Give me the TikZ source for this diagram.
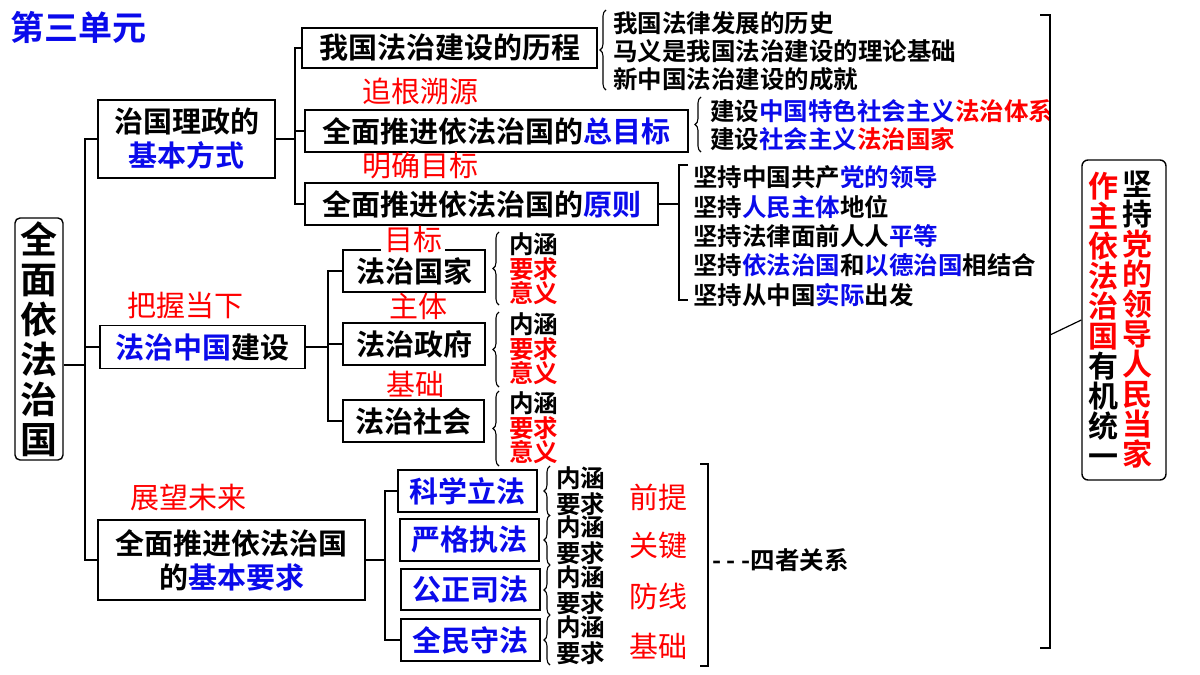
\documentclass[tikz,border=0pt]{standalone}
\usepackage{fontspec}
\newfontfamily\bcjk{Noto Sans CJK SC}[BoldFont=* Bold]
\usetikzlibrary{decorations.pathreplacing}
\definecolor{bl}{RGB}{10,10,235}
\definecolor{rd}{RGB}{255,0,0}
\newcommand{\B}[1]{\textcolor{bl}{#1}}
\newcommand{\R}[1]{\textcolor{rd}{#1}}
\begin{document}
\begin{tikzpicture}[x=1pt,y=-1pt,
  box/.style={draw,line width=1.4pt,inner sep=0pt,align=center,font=\bcjk\bfseries\fontsize{29}{34}\selectfont},
  ln/.style={line width=1.2pt},
  txt/.style={anchor=west,inner sep=0pt,font=\bcjk\bfseries\fontsize{24.5}{26}\selectfont},
  lab/.style={inner sep=0pt,text=rd,font=\bcjk\fontsize{29}{30}\selectfont},
  br/.style={line width=1.1pt,decorate,decoration={brace,amplitude=6pt}}]
\useasboundingbox (0,0) rectangle (1200,675);
\fill[white] (0,0) rectangle (1200,675);
\node[anchor=west,inner sep=0pt,text=bl,font=\bcjk\bfseries\fontsize{34}{36}\selectfont] (title) at (10,27) {第三单元};
% root
\node[box,rounded corners=5pt,minimum width=48pt,minimum height=242pt,font=\bcjk\bfseries\fontsize{37}{40}\selectfont] (root) at (39,339) {全\\面\\依\\法\\治\\国};
\coordinate (t1) at (85,365);
\draw[ln] (root.east|-t1) -- (t1);
\node[box,minimum width=177pt,minimum height=78pt] (a) at (186.5,139) {治国理政的\\\B{基本方式}};
\node[box,minimum width=205pt,minimum height=43pt] (b) at (202.5,347) {\B{法治中国}建设};
\node[box,minimum width=267pt,minimum height=80pt] (c) at (231.5,560) {全面推进依法治国\\的\B{基本要求}};
\draw[ln] (a.west) -| (t1) |- (c.west);
\draw[ln] (b.west) -- (b.west-|t1);
% branch a
\node[box,minimum width=295pt,minimum height=40pt] (a1) at (449.5,48) {我国法治建设的历程};
\node[box,minimum width=383pt,minimum height=42pt] (a2) at (496.5,131) {全面推进依法治国的\B{总目标}};
\node[box,minimum width=353pt,minimum height=42pt] (a3) at (481.5,204) {全面推进依法治国的\B{原则}};
\coordinate (t2) at (295,139);
\draw[ln] (a.east) -- (t2);
\draw[ln] (a1.west) -| (t2) |- (a3.west);
\draw[ln] (a2.west) -- (a2.west-|t2);
\node[lab] (l1) at (420,91) {追根溯源};
\node[lab] (l2) at (420,166) {明确目标};
\draw[br] (606,90) -- (606,10);
\node[txt] (a1x) at (613,23) {我国法律发展的历史};
\node[txt] (a1y) at (613,51) {马义是我国法治建设的理论基础};
\node[txt] (a1z) at (613,79) {新中国法治建设的成就};
\draw[br] (701,152) -- (701,97);
\node[txt] (a2x) at (710,111) {建设\B{中国特色社会主义}\R{法治体系}};
\node[txt] (a2y) at (710,139) {建设\B{社会主义}\R{法治国家}};
\coordinate (k3) at (679,204);
\draw[ln] (a3.east) -- (k3);
\draw[ln] (688,165) -- (679,165) -- (679,300) -- (688,300);
\node[txt] (p1) at (693,177) {坚持中国共产\B{党的领导}};
\node[txt] (p2) at (693,207) {坚持\B{人民主体}地位};
\node[txt] (p3) at (693,236) {坚持法律面前人人\B{平等}};
\node[txt] (p4) at (693,265) {坚持\B{依法治国}和\B{以德治国}相结合};
\node[txt] (p5) at (693,295) {坚持从中国\B{实际}出发};
% branch b
\node[box,minimum width=142pt,minimum height=42pt] (b1) at (414,271) {法治国家};
\node[box,minimum width=142pt,minimum height=42pt] (b2) at (414,344) {法治政府};
\node[box,minimum width=141pt,minimum height=42pt] (b3) at (413.5,421) {法治社会};
\coordinate (t3) at (328,347);
\draw[ln] (b.east) -- (t3);
\draw[ln] (b1.west) -| (t3) |- (b3.west);
\draw[ln] (b2.west) -- (b2.west-|t3);
\node[lab,fill=white,inner xsep=3pt] (l3) at (413,239) {目标};
\node[lab,fill=white,inner xsep=3pt] (l4) at (418,306) {主体};
\node[lab,fill=white,inner xsep=3pt] (l5) at (415,384) {基础};
\node[lab] (l6) at (185,305) {把握当下};
\foreach \n/\t/\bt in {1/232/305,2/312/387,3/391/466}{
  \draw[br] (499,\bt) -- (499,\t);
  \node[txt] (n\n) at (509,\t+12) {内涵};
  \node[txt] (y\n) at (509,\t+37) {\R{要求}};
  \node[txt] (s\n) at (509,\t+61) {\R{意义}};
}
% branch c
\node[box,minimum width=139pt,minimum height=42pt] (c1) at (467.5,491) {\B{科学立法}};
\node[box,minimum width=139pt,minimum height=42pt] (c2) at (469.5,540) {\B{严格执法}};
\node[box,minimum width=139pt,minimum height=41pt] (c3) at (470.5,589.5) {\B{公正司法}};
\node[box,minimum width=139pt,minimum height=42pt] (c4) at (470.5,640) {\B{全民守法}};
\coordinate (t4) at (385,560);
\draw[ln] (c.east) -- (t4);
\draw[ln] (c1.west) -| (t4) |- (c4.west);
\node[lab] (l7) at (188,497) {展望未来};
\foreach \n/\y/\w in {1/491/前提,2/540/关键,3/590/防线,4/640/基础}{
  \draw[br] (550,\y+25) -- (550,\y-25);
  \node[txt] (m\n) at (556,\y-13) {内涵};
  \node[txt] (q\n) at (556,\y+13) {要求};
  \node[lab] (w\n) at (658,\y+6) {\w};
}
\draw[ln] (700,464) -- (708,464) -- (708,666) -- (700,666);
\coordinate (k4) at (708,560);
\node[txt] (rel) at (712,560) {- - -四者关系};
% right
\draw[ln] (1040,15) -- (1050,15) -- (1050,648) -- (1040,648);
\coordinate (k5) at (1050,335);
\node[box,rounded corners=6pt,minimum width=84pt,minimum height=320pt] (rb) at (1124,320) {};
\draw[ln] (k5) -- (rb.west);
\node[inner sep=0pt,align=center,font=\bcjk\bfseries\fontsize{30}{30}\selectfont] (rc1) at (1137,320) {坚\\持\\\R{党}\\\R{的}\\\R{领}\\\R{导}\\\R{人}\\\R{民}\\\R{当}\\\R{家}};
\node[inner sep=0pt,align=center,font=\bcjk\bfseries\fontsize{30}{30}\selectfont] (rc2) at (1103,320) {\R{作}\\\R{主}\\\R{依}\\\R{法}\\\R{治}\\\R{国}\\有\\机\\统\\一};
\end{tikzpicture}
\end{document}
